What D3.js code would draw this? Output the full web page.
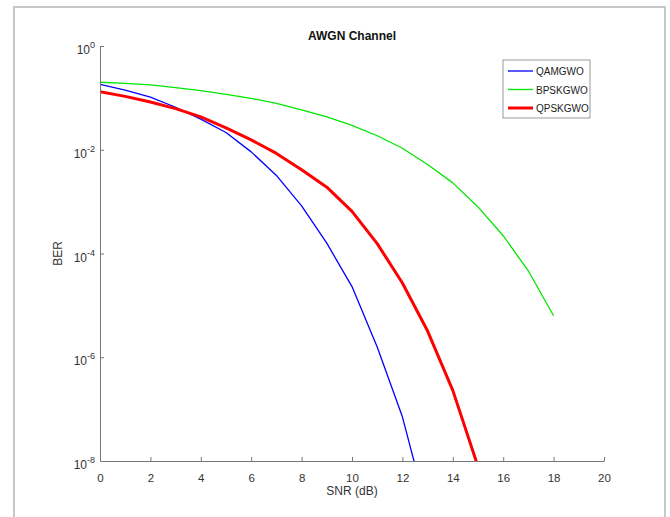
<!DOCTYPE html>
<html>
<head>
<meta charset="utf-8">
<script src="https://cdn.jsdelivr.net/npm/d3@7"></script>
<style>
  body { margin: 0; background: #fff; }
  svg { font-family: "Liberation Sans", Arial, sans-serif; }
</style>
</head>
<body>
<svg id="chart" width="670" height="517"></svg>
<script>
// SNR (dB) points
var snr = [0, 1, 2, 3, 4, 5, 6, 7, 8, 9, 10, 11, 12, 13, 14, 15, 16, 17, 18];

// BER
var qamgwo = [0.182, 0.141, 0.103, 0.066, 0.039, 0.0215, 0.0091, 0.0032, 8.3e-4, 1.58e-4,
    2.3e-5, 1.58e-6, 7.1e-8, 1.0e-9];
var bpskgwo = [0.2, 0.19, 0.178, 0.158, 0.138, 0.117, 0.098, 0.078, 0.059, 0.043, 0.0295,
    0.0186, 0.0107, 0.0052, 0.0023, 7.9e-4, 2.2e-4, 4.6e-5, 6.3e-6];
var qpskgwo = [0.132, 0.107, 0.083, 0.062, 0.043, 0.0263, 0.0155, 0.0085, 0.0041, 0.0019,
    6.5e-4, 1.55e-4, 2.7e-5, 3.2e-6, 2.3e-7, 7.8e-9];

var series = [
    {name: "QAMGWO", values: qamgwo, color: "#0000ff", width: 1.3},
    {name: "BPSKGWO", values: bpskgwo, color: "#00e600", width: 1.3},
    {name: "QPSKGWO", values: qpskgwo, color: "#ff0000", width: 3}
];

var xTicks = [0, 2, 4, 6, 8, 10, 12, 14, 16, 18, 20];
var yTicks = [0, -2, -4, -6, -8];

var svg = d3.select("#chart");

// figure frame
svg.append("rect")
    .attr("x", 14).attr("y", 7)
    .attr("width", 651).attr("height", 520)
    .attr("fill", "none")
    .attr("stroke", "#c8c8c8")
    .attr("stroke-width", 2);

var pLeft = 100, pRight = 604, pTop = 46, pBottom = 461;

var x = d3.scaleLinear().domain([0, 20]).range([pLeft, pRight]);
var y = d3.scaleLog().domain([1e-8, 1]).range([pBottom, pTop]);

svg.append("clipPath").attr("id", "plotclip")
    .append("rect")
    .attr("x", pLeft).attr("y", pTop)
    .attr("width", pRight - pLeft).attr("height", pBottom - pTop);

var line = d3.line()
    .x(function (d, i) { return x(snr[i]); })
    .y(function (d) { return y(d); });

var g = svg.append("g").attr("clip-path", "url(#plotclip)");
series.forEach(function (s) {
    g.append("path")
        .datum(s.values)
        .attr("d", line)
        .attr("fill", "none")
        .attr("stroke", s.color)
        .attr("stroke-width", s.width)
        .attr("stroke-linejoin", "round");
});

// axes (MATLAB style: ticks inward, no box)
var axisColor = "#777";
var labelColor = "#333";

var xAxis = d3.axisBottom(x).tickValues(xTicks).tickSizeInner(-4).tickSizeOuter(0).tickPadding(13);
var gx = svg.append("g").attr("transform", "translate(0," + pBottom + ")").call(xAxis);
gx.select(".domain").attr("stroke", axisColor);
gx.selectAll(".tick line").attr("stroke", axisColor);
gx.selectAll(".tick text").attr("fill", labelColor).attr("font-size", 11.5)
    .attr("font-family", "Liberation Sans, Arial, sans-serif");
gx.selectAll(".tick").filter(function (d) { return d === 0; }).select("line").remove();

var yAxis = d3.axisLeft(y).tickValues(yTicks.map(function (e) { return Math.pow(10, e); }))
    .tickSizeInner(-4).tickSizeOuter(0).tickFormat("");
var gy = svg.append("g").attr("transform", "translate(" + pLeft + ",0)").call(yAxis);
gy.select(".domain").attr("stroke", axisColor);
gy.selectAll(".tick line").attr("stroke", axisColor);
gy.selectAll(".tick").filter(function (d) { return d === 1e-8; }).select("line").remove();

yTicks.forEach(function (e) {
    var t = svg.append("text")
        .attr("x", pLeft - 5)
        .attr("y", y(Math.pow(10, e)) + 8)
        .attr("text-anchor", "end")
        .attr("fill", labelColor)
        .attr("font-size", 12);
    t.append("tspan").text("10");
    t.append("tspan").attr("dy", -6).attr("font-size", 9).text(String(e));
});

// title and labels
svg.append("text")
    .attr("x", (pLeft + pRight) / 2).attr("y", 40)
    .attr("text-anchor", "middle")
    .attr("font-size", 12).attr("font-weight", "bold")
    .attr("fill", "#111")
    .text("AWGN Channel");

svg.append("text")
    .attr("x", (pLeft + pRight) / 2).attr("y", 495)
    .attr("text-anchor", "middle")
    .attr("font-size", 12).attr("fill", labelColor)
    .text("SNR (dB)");

svg.append("text")
    .attr("transform", "translate(62," + (pTop + pBottom) / 2 + ") rotate(-90)")
    .attr("text-anchor", "middle")
    .attr("font-size", 12).attr("fill", labelColor)
    .text("BER");

// legend
var leg = svg.append("g").attr("transform", "translate(503,60)");
leg.append("rect")
    .attr("width", 87).attr("height", 58)
    .attr("fill", "#fff")
    .attr("stroke", "#999").attr("stroke-width", 1);
series.forEach(function (s, i) {
    var ly = 11 + i * 18.5;
    leg.append("line")
        .attr("x1", 5).attr("x2", 30)
        .attr("y1", ly).attr("y2", ly)
        .attr("stroke", s.color)
        .attr("stroke-width", s.width);
    leg.append("text")
        .attr("x", 33).attr("y", ly + 4)
        .attr("font-size", 10).attr("fill", "#222")
        .text(s.name);
});
</script>
</body>
</html>
